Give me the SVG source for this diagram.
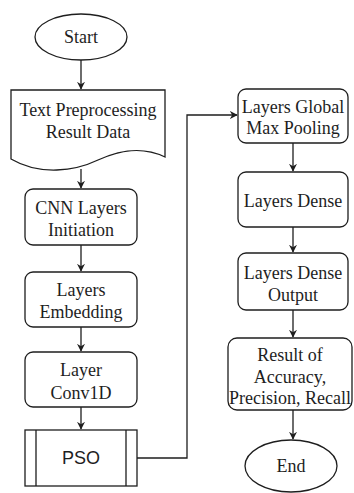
<svg xmlns="http://www.w3.org/2000/svg" width="354" height="493" viewBox="0 0 354 493">
  <style>
    .shape { fill: #ffffff; stroke: #1e1e1e; stroke-width: 1.3; }
    .line { fill: none; stroke: #1e1e1e; stroke-width: 1.3; }
    .t { font-family: "Liberation Serif", "Times New Roman", serif; font-size: 18px; fill: #1e1e1e; text-anchor: middle; }
    .s { font-family: "Liberation Sans", Arial, sans-serif; font-size: 18px; fill: #1e1e1e; text-anchor: middle; }
  </style>
  <defs>
    <marker id="arrow" viewBox="0 0 10 10" refX="9" refY="5" markerWidth="8" markerHeight="8" markerUnits="userSpaceOnUse" orient="auto">
      <path d="M0 0 L10 5 L0 10 L3 5 Z" fill="#1e1e1e"/>
    </marker>
  </defs>
  <rect width="354" height="493" fill="#ffffff"/>

  <g id="connectors">
    <path class="line" d="M81 60 V89" marker-end="url(#arrow)"/>
    <path class="line" d="M81 169 V188" marker-end="url(#arrow)"/>
    <path class="line" d="M81 245 V271" marker-end="url(#arrow)"/>
    <path class="line" d="M81 327 V351" marker-end="url(#arrow)"/>
    <path class="line" d="M81 407 V429" marker-end="url(#arrow)"/>
    <path class="line" d="M137 458 H187 V115 H237" marker-end="url(#arrow)"/>
    <path class="line" d="M293 143 V171" marker-end="url(#arrow)"/>
    <path class="line" d="M293 227 V252" marker-end="url(#arrow)"/>
    <path class="line" d="M293 310 V337" marker-end="url(#arrow)"/>
    <path class="line" d="M293 410 V439" marker-end="url(#arrow)"/>
  </g>

  <g id="start">
    <ellipse class="shape" cx="81" cy="37" rx="46" ry="23"/>
    <text class="t" x="81" y="43">Start</text>
  </g>

  <g id="preprocessing">
    <path class="shape" d="M11 90 H165 V157 C142 146 120 150 98 160 C75 171 40 176 11 159 Z"/>
    <text class="t" x="88" y="116">Text Preprocessing</text>
    <text class="t" x="88" y="138">Result Data</text>
  </g>

  <g id="cnn-init">
    <rect class="shape" x="25" y="189" width="112" height="56" rx="8"/>
    <text class="t" x="81" y="214">CNN Layers</text>
    <text class="t" x="81" y="236">Initiation</text>
  </g>

  <g id="embedding">
    <rect class="shape" x="25" y="272" width="112" height="55" rx="8"/>
    <text class="t" x="81" y="296">Layers</text>
    <text class="t" x="81" y="318">Embedding</text>
  </g>

  <g id="conv1d">
    <rect class="shape" x="25" y="352" width="112" height="55" rx="8"/>
    <text class="t" x="81" y="376">Layer</text>
    <text class="t" x="81" y="399">Conv1D</text>
  </g>

  <g id="pso">
    <rect class="shape" x="25" y="430" width="112" height="56"/>
    <path class="line" d="M36 430 V486 M126 430 V486"/>
    <text class="s" x="81" y="464">PSO</text>
  </g>

  <g id="global-pooling">
    <rect class="shape" x="238" y="89" width="110" height="54" rx="8"/>
    <text class="t" x="293" y="113">Layers Global</text>
    <text class="t" x="293" y="134">Max Pooling</text>
  </g>

  <g id="dense">
    <rect class="shape" x="238" y="172" width="110" height="55" rx="8"/>
    <text class="t" x="293" y="207">Layers Dense</text>
  </g>

  <g id="dense-output">
    <rect class="shape" x="238" y="253" width="110" height="57" rx="8"/>
    <text class="t" x="293" y="279">Layers Dense</text>
    <text class="t" x="293" y="301">Output</text>
  </g>

  <g id="result">
    <rect class="shape" x="228" y="338" width="124" height="72" rx="9"/>
    <text class="t" x="290" y="361">Result of</text>
    <text class="t" x="290" y="383">Accuracy,</text>
    <text class="t" x="290" y="404">Precision, Recall</text>
  </g>

  <g id="end">
    <ellipse class="shape" cx="291" cy="466" rx="46" ry="26"/>
    <text class="t" x="291" y="472">End</text>
  </g>
</svg>
